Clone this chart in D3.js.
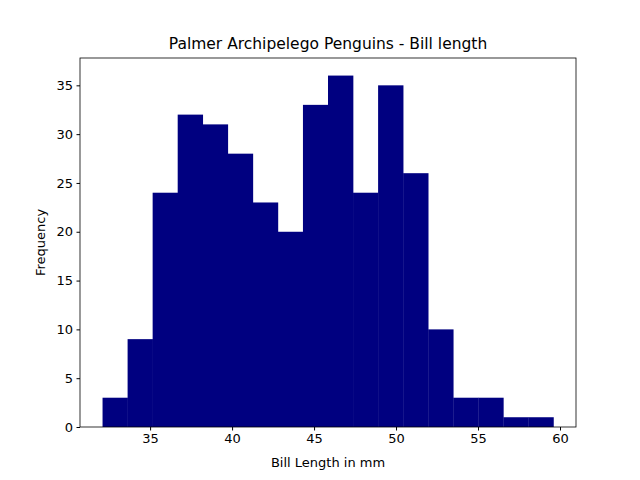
<!DOCTYPE html>
<html><head><meta charset="utf-8">
<script src="https://cdn.jsdelivr.net/npm/d3@7"></script>
<style>body{margin:0;background:#fff}text{font-family:"DejaVu Sans",sans-serif}</style>
</head><body><svg id="c" width="640" height="480"></svg>
<script>
const binStart = 32.1, binEnd = 59.6;
const counts = [3,9,24,32,31,28,23,20,33,36,24,35,26,10,3,3,1,1];
const xTicks = [35,40,45,50,55,60];
const yTicks = [0,5,10,15,20,25,30,35];

const m = {l:80, r:576, t:58, b:427};
const w = (binEnd - binStart) / counts.length;
const pad = (binEnd - binStart) * 0.05;
const x = d3.scaleLinear().domain([binStart - pad, binEnd + pad]).range([m.l, m.r]);
const y = d3.scaleLinear().domain([0, d3.max(counts) * 1.05]).range([m.b, m.t]);
const svg = d3.select('#c');

svg.append('g').selectAll('rect').data(counts).join('rect')
  .attr('x', (d,i) => x(binStart + i*w))
  .attr('width', (d,i) => x(binStart + (i+1)*w) - x(binStart + i*w) + 0.3)
  .attr('y', d => y(d)).attr('height', d => y(0) - y(d))
  .attr('fill', '#000080');

const xa = svg.append('g').attr('transform', `translate(0,${m.b})`)
  .call(d3.axisBottom(x).tickValues(xTicks).tickSize(3.5).tickPadding(3.5));
const ya = svg.append('g').attr('transform', `translate(${m.l},0)`)
  .call(d3.axisLeft(y).tickValues(yTicks).tickSize(3.5).tickPadding(3.5));
[xa, ya].forEach(a => { a.selectAll('text').attr('font-size', 10*1.3+'px').attr('fill','#000'); a.select('.domain').remove(); a.selectAll('line').attr('stroke','#000'); });

svg.append('rect').attr('x', m.l).attr('y', m.t).attr('width', m.r-m.l).attr('height', m.b-m.t)
  .attr('fill','none').attr('stroke','#000').attr('stroke-width',0.8);

svg.append('text').attr('x', (m.l+m.r)/2).attr('y', 49).attr('text-anchor','middle')
  .attr('font-size','15.5px').text('Palmer Archipelego Penguins - Bill length');
svg.append('text').attr('x', (m.l+m.r)/2).attr('y', 467).attr('text-anchor','middle')
  .attr('font-size','13px').text('Bill Length in mm');
svg.append('text').attr('transform', `translate(45,${(m.t+m.b)/2}) rotate(-90)`).attr('text-anchor','middle')
  .attr('font-size','13px').text('Frequency');
</script></body></html>
